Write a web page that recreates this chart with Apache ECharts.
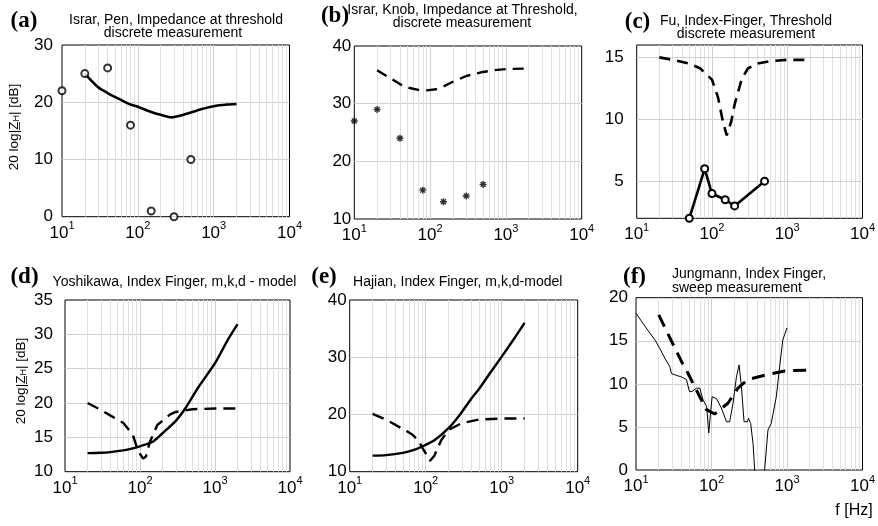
<!DOCTYPE html>
<html><head><meta charset="utf-8">
<script src="https://cdn.jsdelivr.net/npm/echarts@6/dist/echarts.min.js"></script>
<style>html,body{margin:0;padding:0;background:#fff}#c{width:878px;height:526px}</style>
</head><body><div id="c"></div><script>
// ---------- DATA ----------
const xTickExponents = [1, 2, 3, 4];
// (a) Israr, Pen
const aPointsX = [10, 20, 40, 80, 150, 300, 500];
const aPointsY = [22, 25, 26, 16, 1, 0, 10];
const aLineX = [20, 30, 40, 60, 80, 100, 150, 200, 280, 350, 500, 700, 1000, 1500, 2000];
const aLineY = [25, 22.6, 21.6, 20.4, 19.6, 19.2, 18.3, 17.8, 17.35, 17.6, 18.2, 18.8, 19.3, 19.6, 19.7];
// (b) Israr, Knob
const bPointsX = [10, 20, 40, 80, 150, 300, 500];
const bPointsY = [27, 29, 24, 15, 13, 14, 16];
const bDashX = [20, 30, 40, 50, 70, 90, 120, 150, 200, 300, 500, 700, 1000, 2000];
const bDashY = [35.8, 34.4, 33.4, 32.8, 32.4, 32.3, 32.5, 33.0, 33.8, 34.8, 35.5, 35.8, 36.0, 36.1];
// (c) Fu
const cLineX = [50, 80, 100, 150, 200, 500];
const cLineY = [2, 6, 4, 3.5, 3, 5];
const cDashX = [20, 30, 50, 70, 100, 120, 140, 157, 180, 200, 250, 300, 400, 600, 1000, 2000];
const cDashY = [15, 14.8, 14.5, 14.1, 13.2, 11.8, 9.8, 8.7, 9.8, 11.2, 13.3, 14.1, 14.5, 14.7, 14.8, 14.8];
const cYTicks = [5, 10, 15];
// (d) Yoshikawa
const dLineX = [20, 30, 40, 60, 80, 100, 150, 200, 300, 400, 600, 1000, 1500, 2000];
const dLineY = [12.7, 12.75, 12.85, 13.1, 13.4, 13.7, 14.4, 15.6, 17.4, 19.2, 22.3, 25.8, 29.3, 31.5];
const dDashX = [20, 30, 40, 60, 80, 90, 100, 110, 120, 135, 170, 250, 300, 500, 1000, 2000];
const dDashY = [20, 19, 18.2, 17.1, 15.4, 13.7, 12.6, 11.9, 12.2, 14.3, 16.8, 18.3, 18.7, 19.1, 19.2, 19.2];
// (e) Hajian
const eLineX = [20, 30, 50, 70, 90, 130, 200, 280, 400, 500, 700, 1000, 1500, 2000];
const eLineY = [12.8, 12.9, 13.3, 13.8, 14.4, 15.5, 17.6, 19.9, 22.8, 24.4, 27.2, 30.1, 33.5, 36];
const eDashX = [20, 30, 48, 65, 80, 90, 100, 114, 130, 160, 200, 300, 500, 1000, 2000];
const eDashY = [20.1, 19.1, 17.6, 16.6, 15.5, 14.2, 13.2, 11.9, 12.8, 15.5, 17.3, 18.5, 19.1, 19.3, 19.3];
// (f) Jungmann
const fLineX = [10, 13.1, 17.8, 20.7, 24, 28, 29.5, 34, 40, 46.6, 51, 55, 63, 70, 77.5, 86, 92, 98, 102, 116, 135, 158, 174, 193, 214, 232, 249, 270, 299, 310, 330, 355, 373, 430, 505, 560, 618, 722, 800, 880, 1000];
const fLineY = [18.2, 16.7, 15.1, 14.1, 13.0, 12.0, 11.2, 11.0, 10.8, 10.5, 9.1, 9.1, 9.5, 9.5, 8.1, 7.4, 4.3, 7.0, 8.5, 8.3, 7.2, 5.6, 5.6, 7.75, 10.8, 12.2, 9.7, 5.6, 5.6, 6.0, 5.4, 3.1, 0, -8, 0, 4.65, 5.4, 8.5, 12.0, 15.1, 16.5];
const fDashX = [20, 33, 40, 49, 70, 86, 110, 165, 224, 303, 505, 930, 1900];
const fDashY = [18, 14.1, 12.6, 11.2, 8.5, 7.0, 6.5, 7.75, 9.5, 10.5, 11, 11.5, 11.6];

// ---------- LAYOUT / STYLE ----------
const MAJ = '#cfcfcf', MIN = '#e0e0e0';
const SANS = '"Liberation Sans", Arial, sans-serif';
const grids = [
  {left: 62, top: 45, width: 227.5, height: 171.7},
  {left: 354.3, top: 46, width: 227.4, height: 173},
  {left: 636.7, top: 45, width: 227.6, height: 173.3},
  {left: 65, top: 300, width: 225, height: 171.7},
  {left: 349.7, top: 300, width: 228, height: 171.7},
  {left: 636, top: 297.7, width: 227, height: 172.3}
];
const yCfg = [
  {min: 0, max: 30, interval: 10, margin: 9},
  {min: 10, max: 40, interval: 10, margin: 3},
  {min: 2, max: 16, interval: 1, margin: 13, custom: cYTicks},
  {min: 10, max: 35, interval: 5, margin: 12},
  {min: 10, max: 40, interval: 10, margin: 3},
  {min: 0, max: 20, interval: 5, margin: 8}
];
const minorX = [];
xTickExponents.slice(0, 3).forEach(e => { for (let k = 2; k <= 9; k++) minorX.push(k * Math.pow(10, e)); });

const pairs = (xs, ys) => xs.map((x, i) => [x, ys[i]]);

const xAxes = grids.map((g, i) => ({
  type: 'log', logBase: 10, min: 10, max: 10000, gridIndex: i,
  axisLine: {show: false}, axisTick: {show: false},
  splitLine: {show: true, showMinLine: false, showMaxLine: false, lineStyle: {color: MAJ, width: 1}},
  axisLabel: {
    color: '#000', margin: 4,
    formatter: v => '{b|10}{s|' + Math.round(Math.log10(v)) + '}',
    rich: {
      b: {fontSize: 17, fontFamily: SANS, color: '#000', verticalAlign: 'bottom'},
      s: {fontSize: 11, fontFamily: SANS, color: '#000', verticalAlign: 'bottom', padding: [0, 0, 10, 0]}
    }
  }
}));
const yAxes = yCfg.map((c, i) => ({
  type: 'value', gridIndex: i, min: c.min, max: c.max, interval: c.interval,
  axisLine: {show: false}, axisTick: {show: false},
  splitLine: {show: !c.custom, showMinLine: false, showMaxLine: false, lineStyle: {color: MAJ, width: 1}},
  axisLabel: {
    color: '#000', fontSize: 17, fontFamily: SANS, margin: c.margin,
    formatter: c.custom ? (v => c.custom.indexOf(v) >= 0 ? String(v) : '') : (v => String(v))
  }
}));

function gridLines(i) {
  const data = minorX.map(v => ({xAxis: v, lineStyle: {color: MIN}}));
  if (yCfg[i].custom) yCfg[i].custom.forEach(v => data.push({yAxis: v, lineStyle: {color: MAJ}}));
  return {silent: true, symbol: 'none', z: 1, animation: false, label: {show: false},
          lineStyle: {type: 'solid', width: 1}, data: data};
}
const solid = (i, xs, ys, w, sm) => ({type: 'line', xAxisIndex: i, yAxisIndex: i, data: pairs(xs, ys),
  showSymbol: false, z: 3, smooth: sm || false,
  lineStyle: {color: '#000', width: w}, itemStyle: {color: '#000'}});
const dashed = (i, xs, ys, w, dash) => ({type: 'line', xAxisIndex: i, yAxisIndex: i, data: pairs(xs, ys),
  showSymbol: false, z: 3,
  lineStyle: {color: '#000', width: w, type: dash}, itemStyle: {color: '#000'}});
const ASTERISK = 'path://M-1,-5L1,-5L1,5L-1,5Z M-5,-1L5,-1L5,1L-5,1Z M-2.8,-4.2L4.2,2.8L2.8,4.2L-4.2,-2.8Z M-4.2,2.8L2.8,-4.2L4.2,-2.8L-2.8,4.2Z';

const series = [];
// (a)
series.push({type: 'scatter', xAxisIndex: 0, yAxisIndex: 0, data: pairs(aPointsX, aPointsY),
  symbol: 'circle', symbolSize: 7, z: 4, itemStyle: {color: '#fff', borderColor: '#000', borderWidth: 2}, markLine: gridLines(0)});
series.push(solid(0, aLineX, aLineY, 2.6, 0.25));
// (b)
series.push({type: 'scatter', xAxisIndex: 1, yAxisIndex: 1, data: pairs(bPointsX, bPointsY),
  symbol: ASTERISK, symbolSize: 7, z: 4, itemStyle: {color: '#000'}, markLine: gridLines(1)});
series.push(dashed(1, bDashX, bDashY, 2.4, [11, 7]));
// (c)
series.push(Object.assign(solid(2, cLineX, cLineY, 2.6), {showSymbol: true, symbol: 'circle', symbolSize: 7,
  itemStyle: {color: '#fff', borderColor: '#000', borderWidth: 2}, markLine: gridLines(2)}));
series.push(dashed(2, cDashX, cDashY, 2.6, [11, 7]));
// (d)
series.push(Object.assign(solid(3, dLineX, dLineY, 2.4, 0.25), {markLine: gridLines(3)}));
series.push(dashed(3, dDashX, dDashY, 2.4, [12, 7]));
// (e)
series.push(Object.assign(solid(4, eLineX, eLineY, 2.4, 0.25), {markLine: gridLines(4)}));
series.push(dashed(4, eDashX, eDashY, 2.4, [12, 7]));
// (f)
series.push(Object.assign(solid(5, fLineX, fLineY, 1), {markLine: gridLines(5)}));
series.push(dashed(5, fDashX, fDashY, 3, [13, 8]));

const txt = (x, y, text, font, align) => ({type: 'text', x: x, y: y, silent: true,
  style: {text: text, font: font, fill: '#000', textAlign: align || 'center', align: align || 'center',
          textVerticalAlign: 'middle', verticalAlign: 'middle'}});
const TF = '14px ' + SANS, LF = 'bold 23px "Liberation Serif", serif';
const yName = (x, y) => ({type: 'text', x: x, y: y, rotation: Math.PI / 2, silent: true,
  style: {text: '{n|20 log|Z\u0332}{sub|H}{n|| [dB]}', fill: '#000', align: 'center', textAlign: 'center',
    verticalAlign: 'middle', textVerticalAlign: 'middle',
    rich: {n: {fontSize: 13.5, fontFamily: SANS, fill: '#000', color: '#000', verticalAlign: 'bottom'},
           sub: {fontSize: 9, fontFamily: SANS, fill: '#000', color: '#000', verticalAlign: 'bottom', padding: [4, 0, 0, 0]}}}});

const graphic = [
  txt(24, 21, '(a)', LF), txt(335, 16, '(b)', LF), txt(637.5, 22, '(c)', LF),
  txt(24.5, 277.5, '(d)', LF), txt(324, 277, '(e)', LF), txt(634.5, 277, '(f)', LF),
  txt(176, 20.5, 'Israr, Pen, Impedance at threshold', TF), txt(173, 33.5, 'discrete measurement', TF),
  txt(462.5, 10.5, 'Israr, Knob, Impedance at Threshold,', TF), txt(462, 23, 'discrete measurement', TF),
  txt(746, 21.5, 'Fu, Index-Finger, Threshold', TF), txt(746, 34.5, 'discrete measurement', TF),
  txt(174.5, 282.5, 'Yoshikawa, Index Finger, m,k,d - model', TF),
  txt(457.7, 282.5, 'Hajian, Index Finger, m,k,d-model', TF),
  txt(672, 274, 'Jungmann, Index Finger,', TF, 'left'), txt(672, 288, 'sweep measurement', TF, 'left'),
  yName(14, 127), yName(21, 381),
  txt(854, 511, 'f [Hz]', '16px ' + SANS)
];

const chart = echarts.init(document.getElementById('c'), null, {renderer: 'canvas'});
chart.setOption({
  animation: false,
  backgroundColor: '#fff',
  grid: grids.map(g => Object.assign({show: true, borderColor: '#000', borderWidth: 1, backgroundColor: 'transparent', containLabel: false}, g)),
  xAxis: xAxes, yAxis: yAxes, series: series, graphic: graphic
});
</script></body></html>
